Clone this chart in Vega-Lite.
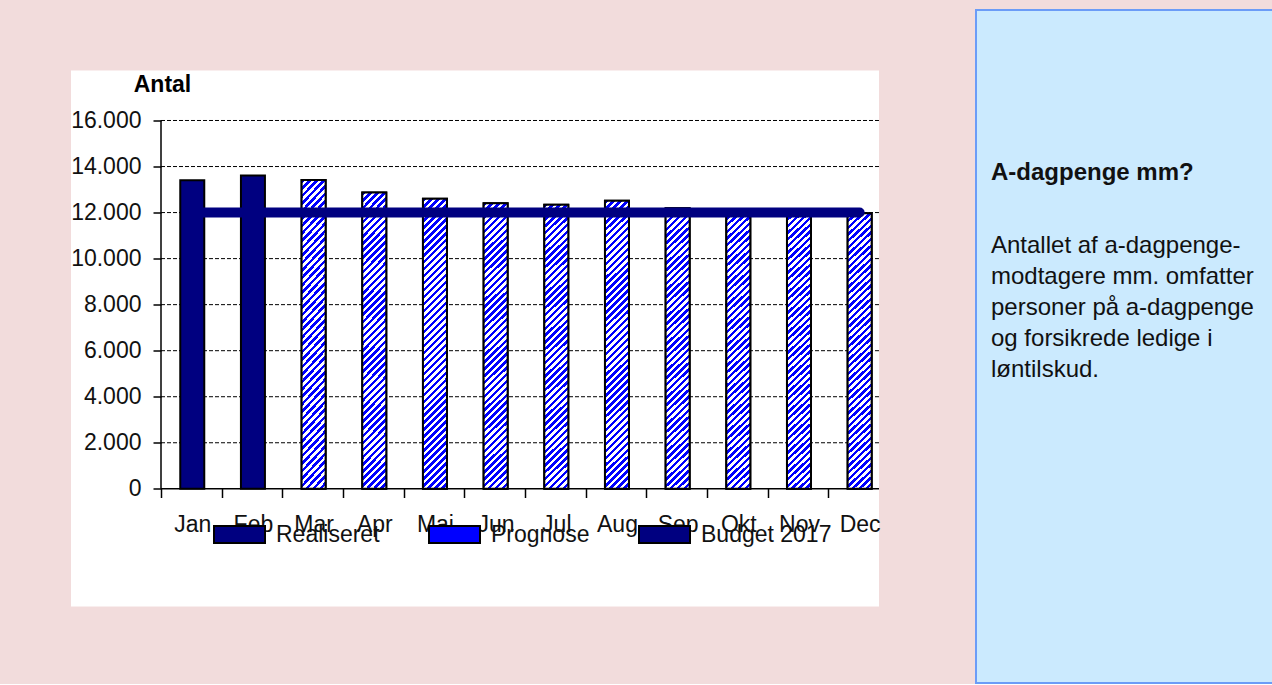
{
"$schema":"https://vega.github.io/schema/vega-lite/v6.json",
"background":"#f2dcdc",
"padding":{"left":70,"top":9,"right":0,"bottom":0},
"spacing":94,
"center":true,
"config":{"font":"Liberation Sans","view":{"stroke":null},
 "axisX":{"title":null,"offset":-118,"domain":false,"grid":false,"ticks":true,"tickSize":9,"tickColor":"#000000","tickWidth":1.5,"bandPosition":0,"labelOffset":19.26,"labelPadding":16,"labelFontSize":23,"labelColor":"#111111","labelAngle":0},
 "axisY":{"title":null,"offset":-90,"domain":false,"grid":false,"tickSize":8,"tickColor":"#000000","tickWidth":1.5,"labelPadding":12,"labelFontSize":23,"labelColor":"#111111"}},
"hconcat":[
 {
  "width":808,"height":536,
  "view":{"fill":"#ffffff","stroke":null},
  "title":{"text":"\u00a0","fontSize":10,"offset":7,"orient":"bottom"},
  "data":{"values":[
   {"month":"Jan","value":13400,"type":"Realiseret","budget":12000},
   {"month":"Feb","value":13610,"type":"Realiseret","budget":12000},
   {"month":"Mar","value":13420,"type":"Prognose","budget":12000},
   {"month":"Apr","value":12870,"type":"Prognose","budget":12000},
   {"month":"Maj","value":12600,"type":"Prognose","budget":12000},
   {"month":"Jun","value":12410,"type":"Prognose","budget":12000},
   {"month":"Jul","value":12340,"type":"Prognose","budget":12000},
   {"month":"Aug","value":12510,"type":"Prognose","budget":12000},
   {"month":"Sep","value":12190,"type":"Prognose","budget":12000},
   {"month":"Okt","value":12080,"type":"Prognose","budget":12000},
   {"month":"Nov","value":12030,"type":"Prognose","budget":12000},
   {"month":"Dec","value":11970,"type":"Prognose","budget":12000}
  ]},
  "layer":[
   {"data":{"values":[{"g":2000},{"g":4000},{"g":6000},{"g":8000},{"g":10000},{"g":12000},{"g":14000},{"g":16000}]},
    "mark":{"type":"rule","stroke":"#000000","strokeWidth":1,"strokeDash":[4,2]},
    "encoding":{
     "y":{"field":"g","type":"quantitative","scale":{"domain":[-5113,18172],"nice":false,"zero":false},"axis":{"title":null,"values":[0,2000,4000,6000,8000,10000,12000,14000,16000],"labelExpr":"replace(format(datum.value, ','), ',', '.')"}},
     "x":{"datum":"Jan","bandPosition":-0.8025,"scale":{"domain":["Jan","Feb","Mar","Apr","Maj","Jun","Jul","Aug","Sep","Okt","Nov","Dec"],"paddingInner":0.6044,"paddingOuter":0.961,"align":0.937},"axis":{"title":null,"tickOffset":-19.26}},
     "x2":{"value":"width"}}},
   {"data":{"values":[{}]},
    "mark":{"type":"rule","stroke":"#000000","strokeWidth":1.5},
    "encoding":{
     "y":{"datum":0,"scale":{"domain":[-5113,18172],"nice":false,"zero":false},"axis":{"title":null,"values":[0,2000,4000,6000,8000,10000,12000,14000,16000],"labelExpr":"replace(format(datum.value, ','), ',', '.')"}},
     "x":{"datum":"Jan","bandPosition":-0.8025,"scale":{"domain":["Jan","Feb","Mar","Apr","Maj","Jun","Jul","Aug","Sep","Okt","Nov","Dec"],"paddingInner":0.6044,"paddingOuter":0.961,"align":0.937},"axis":{"title":null,"tickOffset":-19.26}},
     "x2":{"value":"width"}}},
   {"data":{"values":[{}]},
    "mark":{"type":"rule","stroke":"#000000","strokeWidth":1.5},
    "encoding":{
     "x":{"datum":"Jan","bandPosition":-0.8025,"scale":{"domain":["Jan","Feb","Mar","Apr","Maj","Jun","Jul","Aug","Sep","Okt","Nov","Dec"],"paddingInner":0.6044,"paddingOuter":0.961,"align":0.937},"axis":{"title":null,"tickOffset":-19.26}},
     "y":{"datum":0,"scale":{"domain":[-5113,18172],"nice":false,"zero":false},"axis":{"title":null,"values":[0,2000,4000,6000,8000,10000,12000,14000,16000],"labelExpr":"replace(format(datum.value, ','), ',', '.')"}},
     "y2":{"datum":16000}}},
   {"mark":{"type":"bar","stroke":"#000000","strokeWidth":2},
    "encoding":{
     "x":{"field":"month","type":"nominal","sort":null,
      "scale":{"domain":["Jan","Feb","Mar","Apr","Maj","Jun","Jul","Aug","Sep","Okt","Nov","Dec"],"paddingInner":0.6044,"paddingOuter":0.961,"align":0.937},"axis":{"title":null,"tickOffset":-19.26}},
     "y":{"field":"value","type":"quantitative","stack":null,
      "scale":{"domain":[-5113,18172],"nice":false,"zero":false},"axis":{"title":null,"values":[0,2000,4000,6000,8000,10000,12000,14000,16000],"labelExpr":"replace(format(datum.value, ','), ',', '.')"}},
     "fill":{"field":"type","type":"nominal",
      "scale":{"domain":["Realiseret","Prognose","Budget 2017"],"range":["#000080","#0000ff","#000080"]},
      "legend":{"title":null,"orient":"none","legendX":142,"legendY":498,"direction":"horizontal","symbolSize":2601,"symbolType":"M-1,-0.333H1V0.333H-1Z","symbolStrokeWidth":2,"symbolStrokeColor":"#000000","labelFontSize":23,"labelColor":"#111111","labelOffset":10,"columnPadding":45}}
    }},
   {"transform":[{"filter":"datum.type === 'Prognose'"}],
    "mark":{"type":"bar","stroke":"#000000","strokeWidth":2,
     "fill":{"gradient":"linear","x1":0,"y1":0,"x2":0.089,"y2":1.075,"stops":[
{"offset":0,"color":"#00f"},{"offset":0.0111,"color":"#00f"},{"offset":0.0111,"color":"#fff"},{"offset":0.0222,"color":"#fff"},
{"offset":0.0222,"color":"#00f"},{"offset":0.0333,"color":"#00f"},{"offset":0.0333,"color":"#fff"},{"offset":0.0444,"color":"#fff"},
{"offset":0.0444,"color":"#00f"},{"offset":0.0556,"color":"#00f"},{"offset":0.0556,"color":"#fff"},{"offset":0.0667,"color":"#fff"},
{"offset":0.0667,"color":"#00f"},{"offset":0.0778,"color":"#00f"},{"offset":0.0778,"color":"#fff"},{"offset":0.0889,"color":"#fff"},
{"offset":0.0889,"color":"#00f"},{"offset":0.1,"color":"#00f"},{"offset":0.1,"color":"#fff"},{"offset":0.1111,"color":"#fff"},
{"offset":0.1111,"color":"#00f"},{"offset":0.1222,"color":"#00f"},{"offset":0.1222,"color":"#fff"},{"offset":0.1333,"color":"#fff"},
{"offset":0.1333,"color":"#00f"},{"offset":0.1444,"color":"#00f"},{"offset":0.1444,"color":"#fff"},{"offset":0.1556,"color":"#fff"},
{"offset":0.1556,"color":"#00f"},{"offset":0.1667,"color":"#00f"},{"offset":0.1667,"color":"#fff"},{"offset":0.1778,"color":"#fff"},
{"offset":0.1778,"color":"#00f"},{"offset":0.1889,"color":"#00f"},{"offset":0.1889,"color":"#fff"},{"offset":0.2,"color":"#fff"},
{"offset":0.2,"color":"#00f"},{"offset":0.2111,"color":"#00f"},{"offset":0.2111,"color":"#fff"},{"offset":0.2222,"color":"#fff"},
{"offset":0.2222,"color":"#00f"},{"offset":0.2333,"color":"#00f"},{"offset":0.2333,"color":"#fff"},{"offset":0.2444,"color":"#fff"},
{"offset":0.2444,"color":"#00f"},{"offset":0.2556,"color":"#00f"},{"offset":0.2556,"color":"#fff"},{"offset":0.2667,"color":"#fff"},
{"offset":0.2667,"color":"#00f"},{"offset":0.2778,"color":"#00f"},{"offset":0.2778,"color":"#fff"},{"offset":0.2889,"color":"#fff"},
{"offset":0.2889,"color":"#00f"},{"offset":0.3,"color":"#00f"},{"offset":0.3,"color":"#fff"},{"offset":0.3111,"color":"#fff"},
{"offset":0.3111,"color":"#00f"},{"offset":0.3222,"color":"#00f"},{"offset":0.3222,"color":"#fff"},{"offset":0.3333,"color":"#fff"},
{"offset":0.3333,"color":"#00f"},{"offset":0.3444,"color":"#00f"},{"offset":0.3444,"color":"#fff"},{"offset":0.3556,"color":"#fff"},
{"offset":0.3556,"color":"#00f"},{"offset":0.3667,"color":"#00f"},{"offset":0.3667,"color":"#fff"},{"offset":0.3778,"color":"#fff"},
{"offset":0.3778,"color":"#00f"},{"offset":0.3889,"color":"#00f"},{"offset":0.3889,"color":"#fff"},{"offset":0.4,"color":"#fff"},
{"offset":0.4,"color":"#00f"},{"offset":0.4111,"color":"#00f"},{"offset":0.4111,"color":"#fff"},{"offset":0.4222,"color":"#fff"},
{"offset":0.4222,"color":"#00f"},{"offset":0.4333,"color":"#00f"},{"offset":0.4333,"color":"#fff"},{"offset":0.4444,"color":"#fff"},
{"offset":0.4444,"color":"#00f"},{"offset":0.4556,"color":"#00f"},{"offset":0.4556,"color":"#fff"},{"offset":0.4667,"color":"#fff"},
{"offset":0.4667,"color":"#00f"},{"offset":0.4778,"color":"#00f"},{"offset":0.4778,"color":"#fff"},{"offset":0.4889,"color":"#fff"},
{"offset":0.4889,"color":"#00f"},{"offset":0.5,"color":"#00f"},{"offset":0.5,"color":"#fff"},{"offset":0.5111,"color":"#fff"},
{"offset":0.5111,"color":"#00f"},{"offset":0.5222,"color":"#00f"},{"offset":0.5222,"color":"#fff"},{"offset":0.5333,"color":"#fff"},
{"offset":0.5333,"color":"#00f"},{"offset":0.5444,"color":"#00f"},{"offset":0.5444,"color":"#fff"},{"offset":0.5556,"color":"#fff"},
{"offset":0.5556,"color":"#00f"},{"offset":0.5667,"color":"#00f"},{"offset":0.5667,"color":"#fff"},{"offset":0.5778,"color":"#fff"},
{"offset":0.5778,"color":"#00f"},{"offset":0.5889,"color":"#00f"},{"offset":0.5889,"color":"#fff"},{"offset":0.6,"color":"#fff"},
{"offset":0.6,"color":"#00f"},{"offset":0.6111,"color":"#00f"},{"offset":0.6111,"color":"#fff"},{"offset":0.6222,"color":"#fff"},
{"offset":0.6222,"color":"#00f"},{"offset":0.6333,"color":"#00f"},{"offset":0.6333,"color":"#fff"},{"offset":0.6444,"color":"#fff"},
{"offset":0.6444,"color":"#00f"},{"offset":0.6556,"color":"#00f"},{"offset":0.6556,"color":"#fff"},{"offset":0.6667,"color":"#fff"},
{"offset":0.6667,"color":"#00f"},{"offset":0.6778,"color":"#00f"},{"offset":0.6778,"color":"#fff"},{"offset":0.6889,"color":"#fff"},
{"offset":0.6889,"color":"#00f"},{"offset":0.7,"color":"#00f"},{"offset":0.7,"color":"#fff"},{"offset":0.7111,"color":"#fff"},
{"offset":0.7111,"color":"#00f"},{"offset":0.7222,"color":"#00f"},{"offset":0.7222,"color":"#fff"},{"offset":0.7333,"color":"#fff"},
{"offset":0.7333,"color":"#00f"},{"offset":0.7444,"color":"#00f"},{"offset":0.7444,"color":"#fff"},{"offset":0.7556,"color":"#fff"},
{"offset":0.7556,"color":"#00f"},{"offset":0.7667,"color":"#00f"},{"offset":0.7667,"color":"#fff"},{"offset":0.7778,"color":"#fff"},
{"offset":0.7778,"color":"#00f"},{"offset":0.7889,"color":"#00f"},{"offset":0.7889,"color":"#fff"},{"offset":0.8,"color":"#fff"},
{"offset":0.8,"color":"#00f"},{"offset":0.8111,"color":"#00f"},{"offset":0.8111,"color":"#fff"},{"offset":0.8222,"color":"#fff"},
{"offset":0.8222,"color":"#00f"},{"offset":0.8333,"color":"#00f"},{"offset":0.8333,"color":"#fff"},{"offset":0.8444,"color":"#fff"},
{"offset":0.8444,"color":"#00f"},{"offset":0.8556,"color":"#00f"},{"offset":0.8556,"color":"#fff"},{"offset":0.8667,"color":"#fff"},
{"offset":0.8667,"color":"#00f"},{"offset":0.8778,"color":"#00f"},{"offset":0.8778,"color":"#fff"},{"offset":0.8889,"color":"#fff"},
{"offset":0.8889,"color":"#00f"},{"offset":0.9,"color":"#00f"},{"offset":0.9,"color":"#fff"},{"offset":0.9111,"color":"#fff"},
{"offset":0.9111,"color":"#00f"},{"offset":0.9222,"color":"#00f"},{"offset":0.9222,"color":"#fff"},{"offset":0.9333,"color":"#fff"},
{"offset":0.9333,"color":"#00f"},{"offset":0.9444,"color":"#00f"},{"offset":0.9444,"color":"#fff"},{"offset":0.9556,"color":"#fff"},
{"offset":0.9556,"color":"#00f"},{"offset":0.9667,"color":"#00f"},{"offset":0.9667,"color":"#fff"},{"offset":0.9778,"color":"#fff"},
{"offset":0.9778,"color":"#00f"},{"offset":0.9889,"color":"#00f"},{"offset":0.9889,"color":"#fff"},{"offset":1,"color":"#fff"}
     ]}},
    "encoding":{
     "x":{"field":"month","type":"nominal","sort":null,"scale":{"domain":["Jan","Feb","Mar","Apr","Maj","Jun","Jul","Aug","Sep","Okt","Nov","Dec"],"paddingInner":0.6044,"paddingOuter":0.961,"align":0.937},"axis":{"title":null,"tickOffset":-19.26}},
     "y":{"field":"value","type":"quantitative","stack":null,"scale":{"domain":[-5113,18172],"nice":false,"zero":false},"axis":{"title":null,"values":[0,2000,4000,6000,8000,10000,12000,14000,16000],"labelExpr":"replace(format(datum.value, ','), ',', '.')"}}}},
   {"mark":{"type":"line","stroke":"#000080","strokeWidth":10,"strokeCap":"round"},
    "encoding":{
     "x":{"field":"month","type":"nominal","sort":null,"scale":{"domain":["Jan","Feb","Mar","Apr","Maj","Jun","Jul","Aug","Sep","Okt","Nov","Dec"],"paddingInner":0.6044,"paddingOuter":0.961,"align":0.937},"axis":{"title":null,"tickOffset":-19.26}},
     "y":{"field":"budget","type":"quantitative","scale":{"domain":[-5113,18172],"nice":false,"zero":false},"axis":{"title":null,"values":[0,2000,4000,6000,8000,10000,12000,14000,16000],"labelExpr":"replace(format(datum.value, ','), ',', '.')"}}}},
   {"data":{"values":[{}]},
    "mark":{"type":"text","text":"Antal","fontWeight":"bold","fontSize":23,"align":"center","baseline":"alphabetic","color":"#000000"},
    "encoding":{
     "x":{"datum":"Jan","bandPosition":-0.74,"scale":{"domain":["Jan","Feb","Mar","Apr","Maj","Jun","Jul","Aug","Sep","Okt","Nov","Dec"],"paddingInner":0.6044,"paddingOuter":0.961,"align":0.937},"axis":{"title":null,"tickOffset":-19.26}},
     "y":{"datum":17228,"scale":{"domain":[-5113,18172],"nice":false,"zero":false},"axis":{"title":null,"values":[0,2000,4000,6000,8000,10000,12000,14000,16000],"labelExpr":"replace(format(datum.value, ','), ',', '.')"}}}}
  ]
 },
 {
  "width":297,"height":673,
  "view":{"fill":"#cbeafe","stroke":"#6b9cf7","strokeWidth":2},
  "data":{"values":[]},
  "mark":"point",
  "title":{"text":"A-dagpenge mm?","subtitle":["Antallet af a-dagpenge-","modtagere mm. omfatter","personer på a-dagpenge","og forsikrede ledige i","løntilskud."],
   "anchor":"start","frame":"group","orient":"top","offset":-372,"dx":15,
   "font":"Liberation Sans","fontSize":24,"fontWeight":"bold","color":"#111111",
   "subtitleFont":"Liberation Sans","subtitleFontSize":24,"subtitleColor":"#111111","subtitleLineHeight":30.9,"subtitlePadding":49}
 }
]
}
